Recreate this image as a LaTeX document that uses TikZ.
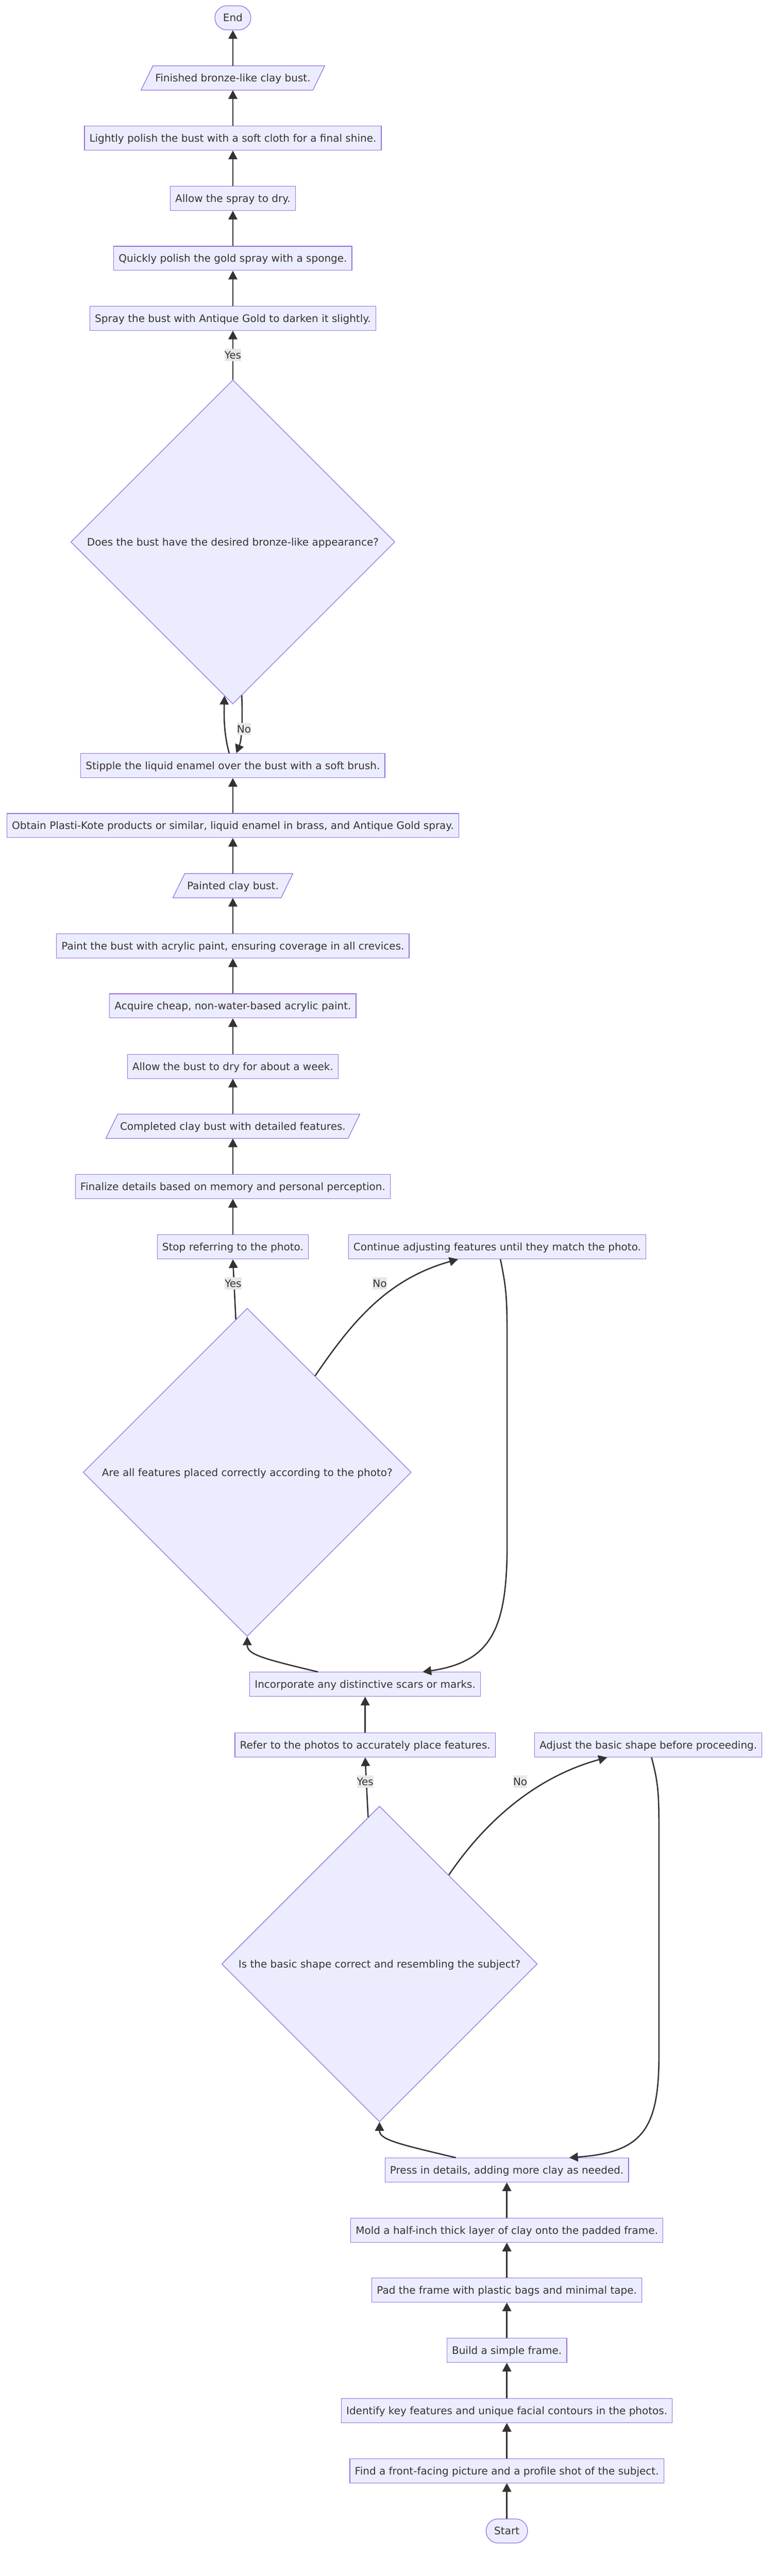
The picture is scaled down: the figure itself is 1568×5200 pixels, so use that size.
\documentclass[tikz,border=0pt]{standalone}
\usepackage{fontspec}
\setmainfont{DejaVu Sans}
\usetikzlibrary{shapes.geometric,arrows.meta,backgrounds}
\definecolor{nfill}{HTML}{ECECFF}
\definecolor{nline}{HTML}{9370DB}
\definecolor{ecol}{HTML}{333333}
\definecolor{lbg}{HTML}{E8E8E8}
\tikzset{
 txt/.style={font=\fontsize{20.8pt}{25pt}\selectfont, text=ecol, text height=15.2pt, text depth=0pt},
 box/.style={txt, draw=nline, fill=nfill, line width=1.3pt, minimum height=48.7pt, inner xsep=10pt, inner ysep=0pt},
 term/.style={box, rounded corners=24.3pt, inner xsep=16.5pt},
 paratext/.style={txt, minimum height=48.7pt, inner xsep=16.5pt, inner ysep=0pt},
 para/.style={draw=nline, fill=nfill, line width=1.3pt},
 dia/.style={txt, shape=diamond, aspect=1, draw=nline, fill=nfill, line width=1.3pt, inner sep=0pt, minimum width=#1, minimum height=#1},
 conn/.style={draw=ecol, line width=2.65pt, -{Triangle[width=18pt,length=17.5pt]}},
 lbl/.style={txt, fill=lbg, inner xsep=0pt, inner ysep=4.9pt},
}
\begin{document}
\begin{tikzpicture}[x=1pt,y=-1pt]
\useasboundingbox (0,0) rectangle (1568,5200);
% nodes
\node[term] (end) at (470,36) {End};
\node[paratext] (fin) at (470,157.5) {Finished bronze-like clay bust.};
\node[box] (lightly) at (470,279) {Lightly polish the bust with a soft cloth for a final shine.};
\node[box] (allowspray) at (470,400.5) {Allow the spray to dry.};
\node[box] (quickly) at (470,521.5) {Quickly polish the gold spray with a sponge.};
\node[box] (spray) at (470,642.5) {Spray the bust with Antique Gold to darken it slightly.};
\node[dia=654pt] (d1) at (470,1094) {Does the bust have the desired bronze-like appearance?};
\node[box] (stipple) at (470,1545.5) {Stipple the liquid enamel over the bust with a soft brush.};
\node[box] (obtain) at (470,1666.5) {Obtain Plasti-Kote products or similar, liquid enamel in brass, and Antique Gold spray.};
\node[paratext] (painted) at (470,1788) {Painted clay bust.};
\node[box] (paint) at (470,1909.5) {Paint the bust with acrylic paint, ensuring coverage in all crevices.};
\node[box] (acquire) at (470,2030.5) {Acquire cheap, non-water-based acrylic paint.};
\node[box] (allowbust) at (470,2152.5) {Allow the bust to dry for about a week.};
\node[paratext] (completed) at (470,2273.5) {Completed clay bust with detailed features.};
\node[box] (finalize) at (470,2395) {Finalize details based on memory and personal perception.};
\node[box] (stop) at (470,2517) {Stop referring to the photo.};
\node[box] (cont) at (1003.5,2517) {Continue adjusting features until they match the photo.};
\node[dia=662pt] (d2) at (499,2972) {Are all features placed correctly according to the photo?};
\node[box] (incorp) at (737,3400) {Incorporate any distinctive scars or marks.};
\node[box] (refer) at (737,3522.5) {Refer to the photos to accurately place features.};
\node[box] (adjust) at (1308.5,3522.5) {Adjust the basic shape before proceeding.};
\node[dia=637pt] (d3) at (766,3964.5) {Is the basic shape correct and resembling the subject?};
\node[box] (press) at (1023,4380.5) {Press in details, adding more clay as needed.};
\node[box] (mold) at (1023,4502) {Mold a half-inch thick layer of clay onto the padded frame.};
\node[box] (pad) at (1023,4623) {Pad the frame with plastic bags and minimal tape.};
\node[box] (build) at (1023,4744.5) {Build a simple frame.};
\node[box] (identify) at (1023,4866) {Identify key features and unique facial contours in the photos.};
\node[box] (find) at (1023,4987.5) {Find a front-facing picture and a profile shot of the subject.};
\node[term] (start) at (1023,5109) {Start};
% background: white page and parallelograms
\begin{scope}[on background layer]
\fill[white] (0,0) rectangle (1568,5200);
\foreach \n in {fin,painted,completed}{
  \draw[para] ([xshift=-12pt]\n.south west) -- ([xshift=-12pt]\n.south east) -- ([xshift=12pt]\n.north east) -- ([xshift=12pt]\n.north west) -- cycle;
}
\end{scope}
% straight connectors
\draw[conn] (start) -- (find);
\draw[conn] (find) -- (identify);
\draw[conn] (identify) -- (build);
\draw[conn] (build) -- (pad);
\draw[conn] (pad) -- (mold);
\draw[conn] (mold) -- (press);
\draw[conn] (refer) -- (incorp);
\draw[conn] (stop) -- (finalize);
\draw[conn] (finalize) -- (completed);
\draw[conn] (completed) -- (allowbust);
\draw[conn] (allowbust) -- (acquire);
\draw[conn] (acquire) -- (paint);
\draw[conn] (paint) -- (painted);
\draw[conn] (painted) -- (obtain);
\draw[conn] (obtain) -- (stipple);
\draw[conn] (d1.north) -- (spray.south);
\draw[conn] (spray) -- (quickly);
\draw[conn] (quickly) -- (allowspray);
\draw[conn] (allowspray) -- (lightly);
\draw[conn] (lightly) -- (fin);
\draw[conn] (fin) -- (end);
% decision 3
\draw[conn] (press.north -| 920,0) .. controls (800,4327) and (766,4319) .. (d3.south);
\draw[conn] ([xshift=-23pt,yshift=-23pt]d3.north) -- (refer.south);
\draw[conn] ([xshift=140pt,yshift=-139.5pt]d3.north) .. controls (979,3677) and (1081,3587) .. ([xshift=-83pt]adjust.south);
\draw[conn] ([xshift=6.5pt]adjust.south) .. controls (1329,3600) and (1330,3620) .. (1330,3700) -- (1330,4150) .. controls (1330,4300) and (1295,4345) .. ([xshift=126pt]press.north);
% decision 2
\draw[conn] ([xshift=-95pt]incorp.north) .. controls (530,3348) and (499,3340) .. (d2.south);
\draw[conn] ([xshift=-23pt,yshift=-23pt]d2.north) -- (stop.south);
\draw[conn] ([xshift=137pt,yshift=-137pt]d2.north) .. controls (710,2669) and (781,2582) .. ([xshift=-79pt]cont.south);
\draw[conn] ([xshift=6.5pt]cont.south) .. controls (1022,2600) and (1023.5,2620) .. (1023.5,2700) -- (1023.5,3120) .. controls (1023.5,3290) and (990,3355) .. ([xshift=116pt]incorp.north);
% decision 1
\draw[conn] ([xshift=-7.5pt]stipple.north) .. controls (452,1480) and (452,1450) .. ([xshift=-17pt,yshift=17pt]d1.south);
\draw[conn] ([xshift=18pt,yshift=18pt]d1.south) .. controls (489.5,1450) and (489,1490) .. ([xshift=7pt]stipple.north);
% edge labels
\node[lbl] (y1) at (470,717) {Yes};
\node[lbl] (n1) at (492.5,1472) {No};
\node[lbl] (y2) at (470.5,2590.5) {Yes};
\node[lbl] (n2) at (766.5,2590.5) {No};
\node[lbl] (y3) at (737,3596) {Yes};
\node[lbl] (n3) at (1050,3596) {No};
\end{tikzpicture}
\end{document}
